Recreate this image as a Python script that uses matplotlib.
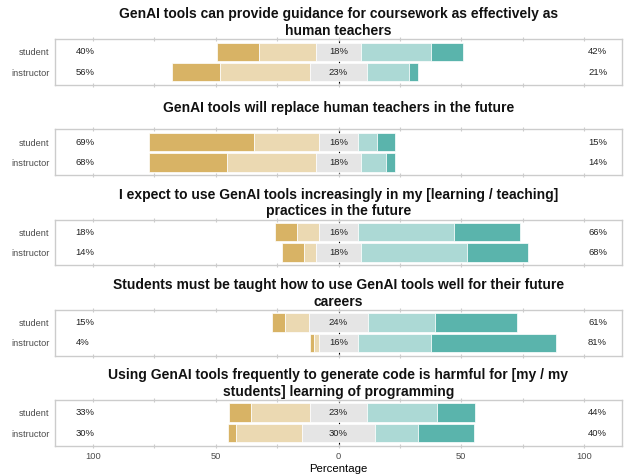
import matplotlib
matplotlib.use("Agg")
import matplotlib.pyplot as plt

plt.rcParams['font.family'] = ['Liberation Sans', 'DejaVu Sans']

# questions (one panel each)
questions = [
    "GenAI tools can provide guidance for coursework as effectively as\nhuman teachers",
    "GenAI tools will replace human teachers in the future",
    "I expect to use GenAI tools increasingly in my [learning / teaching]\npractices in the future",
    "Students must be taught how to use GenAI tools well for their future\ncareers",
    "Using GenAI tools frequently to generate code is harmful for [my / my\nstudents] learning of programming",
]
groups = ["student", "instructor"]

# percentages per question: [student, instructor]
strongly_disagree = [[17.1, 19.4], [42.6, 31.5], [9.3, 8.7], [5.4, 1.5], [8.7, 3.4]]
disagree = [[23.2, 36.8], [26.4, 36.5], [8.7, 5.2], [9.8, 2.1], [24.3, 26.6]]
neutral = [[18.0, 22.8], [16.0, 18.0], [16.0, 18.0], [24.0, 15.6], [23.0, 30.0]]
agree = [[28.7, 17.5], [7.8, 10.3], [39.0, 43.5], [27.4, 29.7], [28.5, 17.4]]
strongly_agree = [[13.0, 3.5], [7.2, 3.7], [27.0, 24.6], [33.4, 51.1], [15.5, 22.6]]

tick_values = [-100, -50, 0, 50, 100]
tick_labels = ["100", "50", "0", "50", "100"]

colors = ["#D8B365", "#EBD9B2", "#E5E5E5", "#ACD9D5", "#5AB4AC"]

W, H = 626, 476
fig = plt.figure(figsize=(W / 100, H / 100), dpi=100)

left_px, right_px = 55, 622
top0, step, panel_h = 39.2, 90.2, 45.7
xlim = 115.4

for i, q in enumerate(questions):
    top_px = top0 + i * step
    ax = fig.add_axes([left_px / W, 1 - (top_px + panel_h) / H,
                       (right_px - left_px) / W, panel_h / H])
    ax.axvline(0, color="black", lw=0.8, zorder=1)
    for j, g in enumerate(groups):
        y = 1 - j
        sd = strongly_disagree[i][j]
        d = disagree[i][j]
        n = neutral[i][j]
        a = agree[i][j]
        sa = strongly_agree[i][j]
        kw = dict(height=0.9, edgecolor="white", linewidth=0.5, zorder=2)
        ax.barh(y, sd, left=-n / 2 - d - sd, color=colors[0], **kw)
        ax.barh(y, d, left=-n / 2 - d, color=colors[1], **kw)
        ax.barh(y, n, left=-n / 2, color=colors[2], **kw)
        ax.barh(y, a, left=n / 2, color=colors[3], **kw)
        ax.barh(y, sa, left=n / 2 + a, color=colors[4], **kw)
        ax.text(-107, y, f"{round(sd + d)}%", ha="left", va="center",
                fontsize=6.8, color="#222222", zorder=3)
        ax.text(0, y, f"{round(n)}%", ha="center", va="center",
                fontsize=6.8, color="#222222", zorder=3)
        ax.text(101.6, y, f"{round(a + sa)}%", ha="left", va="center",
                fontsize=6.8, color="#222222", zorder=3)
    ax.set_xlim(-xlim, xlim)
    ax.set_ylim(-0.62, 1.62)
    ax.set_yticks([1, 0])
    ax.set_yticklabels(groups, fontsize=6.7, color="#4D4D4D")
    ax.tick_params(axis="y", length=0, pad=4)
    ax.set_xticks(range(-100, 101, 25))
    ax.tick_params(axis="x", top=True, bottom=True, direction="inout",
                   length=3, width=0.8, color="#CCCCCC", labelbottom=False)
    for s in ax.spines.values():
        s.set_color("#CCCCCC")
        s.set_linewidth(1.0)
    # titles sit at a fixed distance above each panel
    title_top = top_px - (32 if "\n" in q else 28)
    fig.text((left_px + right_px) / 2 / W, 1 - title_top / H, q,
             ha="center", va="top", fontsize=10, fontweight="bold",
             color="#111111", linespacing=1.25)
    if i == len(questions) - 1:
        ax.set_xticklabels([tick_labels[tick_values.index(t)] if t in tick_values else ""
                            for t in range(-100, 101, 25)])
        ax.tick_params(axis="x", labelbottom=True, labelsize=6.7,
                       labelcolor="#4D4D4D", pad=3)
        ax.set_xlabel("Percentage", fontsize=8.2, labelpad=2)

fig.savefig("out.png", dpi=100)
